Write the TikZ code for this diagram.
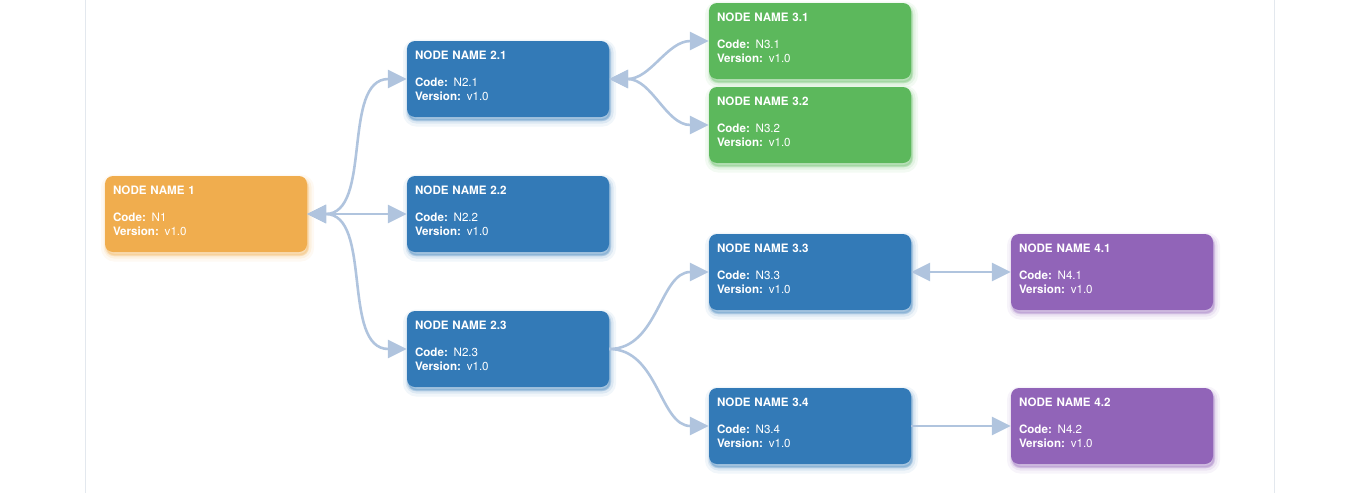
\documentclass[tikz,border=0pt]{standalone}
\usepackage{fontspec}
\setmainfont{TeX Gyre Heros}
\usetikzlibrary{arrows.meta}
\definecolor{boxorange}{HTML}{F0AD4E}
\definecolor{boxblue}{HTML}{337AB7}
\definecolor{boxgreen}{HTML}{5CB85C}
\definecolor{boxpurple}{HTML}{9164B8}
\definecolor{linkcol}{HTML}{B0C4DE}
\definecolor{framecol}{HTML}{E3E8EE}
\begin{document}
\begin{tikzpicture}[x=1pt,y=-1pt,
  glow/.style={preaction={fill=#1,draw=#1,line width=11pt,opacity=0.07,transform canvas={xshift=1.5pt,yshift=-4pt}},
               preaction={fill=#1,draw=#1,line width=6pt,opacity=0.11,transform canvas={xshift=1.5pt,yshift=-3.5pt}},
               preaction={fill=#1,draw=#1,line width=2.5pt,opacity=0.2,transform canvas={xshift=1pt,yshift=-3pt}}},
  box/.style={shape=rectangle,rounded corners=8pt,minimum width=202pt,minimum height=76pt,text width=186pt,
              inner xsep=8pt,inner ysep=0pt,text height=18pt,text depth=58pt,align=left,text=white,
              font=\fontsize{11.6}{14}\selectfont},
  boxO/.style={box,fill=boxorange,glow=boxorange},
  boxB/.style={box,fill=boxblue,glow=boxblue},
  boxG/.style={box,fill=boxgreen,glow=boxgreen},
  boxP/.style={box,fill=boxpurple,glow=boxpurple},
  link/.style={draw=linkcol,line width=2.6pt,-{Triangle[length=19pt,width=18pt]}},
  linkb/.style={link,{Triangle[length=19pt,width=18pt]}-{Triangle[length=19pt,width=18pt]}}]
\def\dx{302}
\def\xa{206}
\def\dy{135}

\useasboundingbox (0,0) rectangle (1361,493);
\draw[framecol,line width=1.5pt] (85.5,0) -- (85.5,493);
\draw[framecol,line width=1.5pt] (1274.5,0) -- (1274.5,493);

\node[boxO] (n1) at (\xa,214) {\textbf{NODE NAME 1}\\[13pt]\textbf{Code:} N1\\\textbf{Version:} v1.0};

\node[boxB] (n21) at (\xa+\dx,214-\dy) {\textbf{NODE NAME 2.1}\\[13pt]\textbf{Code:} N2.1\\\textbf{Version:} v1.0};
\node[boxB] (n22) at (\xa+\dx,214) {\textbf{NODE NAME 2.2}\\[13pt]\textbf{Code:} N2.2\\\textbf{Version:} v1.0};
\node[boxB] (n23) at (\xa+\dx,214+\dy) {\textbf{NODE NAME 2.3}\\[13pt]\textbf{Code:} N2.3\\\textbf{Version:} v1.0};
\draw[linkb] (n1.east) to[out=0,in=180] (n21.west);
\draw[linkb] (n1.east) -- (n22.west);
\draw[linkb] (n1.east) to[out=0,in=180] (n23.west);

\node[boxG] (n31) at (\xa+2*\dx,41) {\textbf{NODE NAME 3.1}\\[13pt]\textbf{Code:} N3.1\\\textbf{Version:} v1.0};
\node[boxG] (n32) at (\xa+2*\dx,125) {\textbf{NODE NAME 3.2}\\[13pt]\textbf{Code:} N3.2\\\textbf{Version:} v1.0};
\draw[linkb] (n21.east) to[out=0,in=180] (n31.west);
\draw[linkb] (n21.east) to[out=0,in=180] (n32.west);

\node[boxB] (n33) at (\xa+2*\dx,272) {\textbf{NODE NAME 3.3}\\[13pt]\textbf{Code:} N3.3\\\textbf{Version:} v1.0};
\node[boxB] (n34) at (\xa+2*\dx,426) {\textbf{NODE NAME 3.4}\\[13pt]\textbf{Code:} N3.4\\\textbf{Version:} v1.0};
\draw[link] (n23.east) to[out=0,in=180] (n33.west);
\draw[link] (n23.east) to[out=0,in=180] (n34.west);

\node[boxP] (n41) at (\xa+3*\dx,272) {\textbf{NODE NAME 4.1}\\[13pt]\textbf{Code:} N4.1\\\textbf{Version:} v1.0};
\node[boxP] (n42) at (\xa+3*\dx,426) {\textbf{NODE NAME 4.2}\\[13pt]\textbf{Code:} N4.2\\\textbf{Version:} v1.0};
\draw[linkb] (n33.east) -- (n41.west);
\draw[link] (n34.east) -- (n42.west);
\end{tikzpicture}
\end{document}
